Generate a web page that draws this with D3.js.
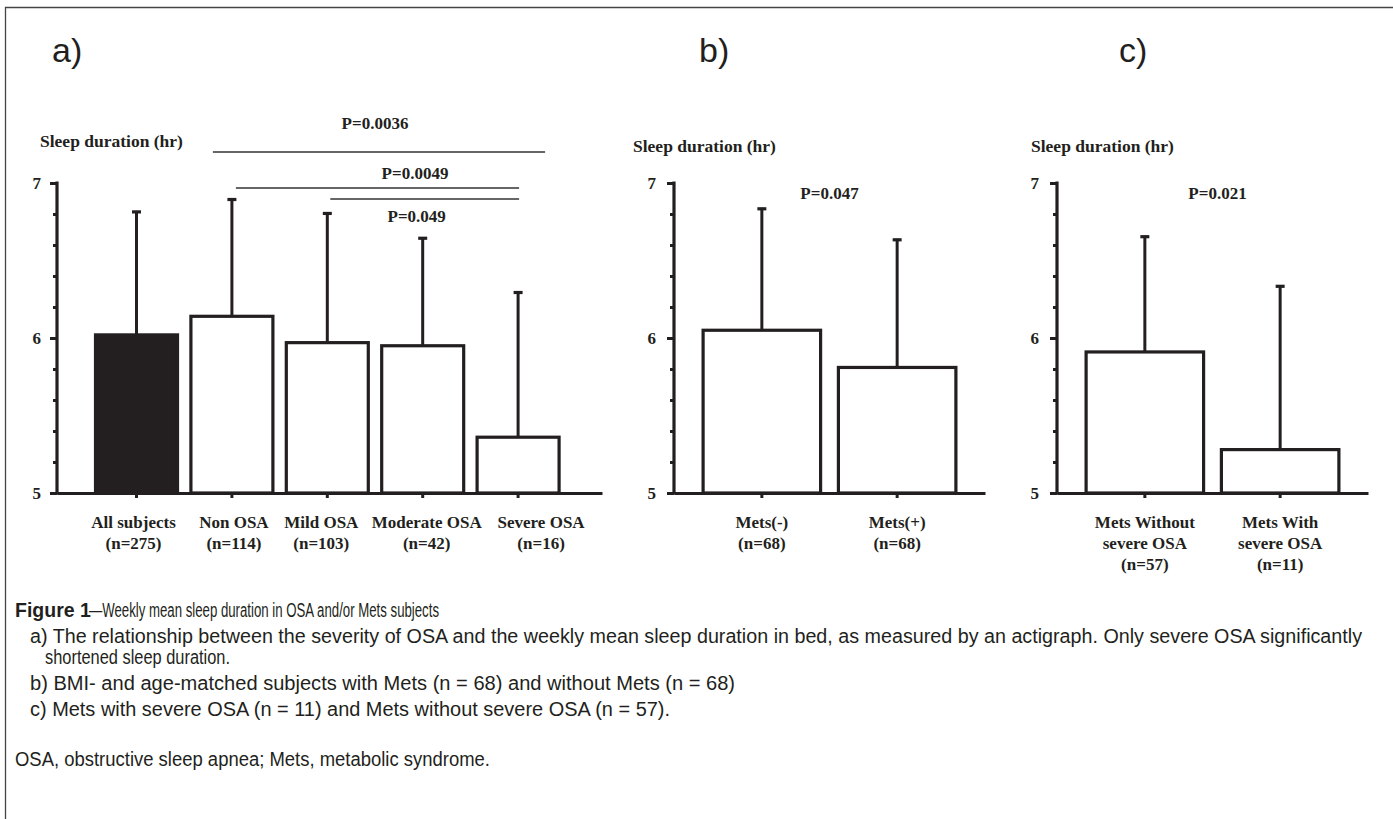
<!DOCTYPE html>
<html><head><meta charset="utf-8">
<script src="https://cdn.jsdelivr.net/npm/d3@7"></script>
<style>
body{margin:0;background:#fff;}
svg{display:block}
</style></head><body>
<svg id="c" width="1393" height="819"></svg>
<script>
// ---------------- data ----------------
const yTickValues = [5, 6, 7];
const yMinorStep = 0.2;
const axisTitle = "Sleep duration (hr)";
const panelTitles = ["a)", "b)", "c)"];

const catsA = ["All subjects|(n=275)", "Non OSA|(n=114)", "Mild OSA|(n=103)", "Moderate OSA|(n=42)", "Severe OSA|(n=16)"];
const meanA = [6.02, 6.14, 5.97, 5.95, 5.36];
const upperA = [6.82, 6.90, 6.81, 6.65, 6.30];

const catsB = ["Mets(-)|(n=68)", "Mets(+)|(n=68)"];
const meanB = [6.05, 5.81];
const upperB = [6.84, 6.64];

const catsC = ["Mets Without|severe OSA|(n=57)", "Mets With|severe OSA|(n=11)"];
const meanC = [5.91, 5.28];
const upperC = [6.66, 6.34];

const sigLabelsA = ["P=0.0036", "P=0.0049", "P=0.049"];
const sigFromA = [1, 1, 2];
const sigToA = [4, 4, 4];
const sigLineLevelA = [7.20, 6.968, 6.897];
const sigTextLevelA = [7.348, 7.026, 6.75];

const sigLabelB = "P=0.047";
const sigLevelB = 6.895;
const sigLabelC = "P=0.021";
const sigLevelC = 6.897;

const captionTitle = "Figure 1";
const captionLines = [
  "—Weekly mean sleep duration in OSA and/or Mets subjects",
  "a) The relationship between the severity of OSA and the weekly mean sleep duration in bed, as measured by an actigraph. Only severe OSA significantly",
  "shortened sleep duration.",
  "b) BMI- and age-matched subjects with Mets (n = 68) and without Mets (n = 68)",
  "c) Mets with severe OSA (n = 11) and Mets without severe OSA (n = 57).",
  "OSA, obstructive sleep apnea; Mets, metabolic syndrome."
];

// ---------------- drawing ----------------
const INK = "#231f20";
const SERIF = "'Liberation Serif','Times New Roman',serif";
const SANS = "'Liberation Sans',Arial,Helvetica,sans-serif";
const svg = d3.select("#c");

// frame
svg.append("path")
  .attr("d", "M1400,7.5 H5.5 V830")
  .attr("fill", "none").attr("stroke", "#444").attr("stroke-width", 1.3);

const yScale = d3.scaleLinear().domain([5, 7]).range([493, 183]);

function panel(cfg) {
  const g = svg.append("g");
  const x = d3.scaleBand().domain(cfg.cats).range(cfg.range)
    .paddingInner(cfg.pi).paddingOuter(cfg.po).align(cfg.align);
  const y = yScale;

  g.append("text").attr("x", cfg.titleX).attr("y", cfg.titleY)
    .attr("font-family", SERIF).attr("font-weight", "bold").attr("font-size", 17.5)
    .attr("fill", INK).text(axisTitle);

  g.selectAll("rect.bar").data(cfg.cats).join("rect")
    .attr("x", d => x(d)).attr("width", x.bandwidth())
    .attr("y", (d, i) => y(cfg.means[i]))
    .attr("height", (d, i) => y(5) - y(cfg.means[i]))
    .attr("fill", (d, i) => cfg.blackFirst && i === 0 ? INK : "#fff")
    .attr("stroke", INK).attr("stroke-width", 3.2);

  const eb = g.selectAll("g.eb").data(cfg.cats).join("g");
  eb.append("line")
    .attr("x1", d => x(d) + x.bandwidth() / 2).attr("x2", d => x(d) + x.bandwidth() / 2)
    .attr("y1", (d, i) => y(cfg.means[i])).attr("y2", (d, i) => y(cfg.uppers[i]))
    .attr("stroke", INK).attr("stroke-width", 3);
  eb.append("line")
    .attr("x1", d => x(d) + x.bandwidth() / 2 - 4.5).attr("x2", d => x(d) + x.bandwidth() / 2 + 4.5)
    .attr("y1", (d, i) => y(cfg.uppers[i]) + 1).attr("y2", (d, i) => y(cfg.uppers[i]) + 1)
    .attr("stroke", INK).attr("stroke-width", 3.2);

  const xa = g.append("g").attr("transform", `translate(0,${y(5)})`)
    .call(d3.axisBottom(x).tickSize(5).tickSizeOuter(0).tickFormat(""));
  xa.select(".domain").attr("stroke", INK).attr("stroke-width", 3.2);
  xa.selectAll(".tick line").attr("stroke", INK).attr("stroke-width", 3);
  xa.selectAll(".tick").each(function (d, i) {
    const parts = d.split("|");
    const dx = cfg.labelShift ? cfg.labelShift[i] : 0;
    const t = d3.select(this).append("text")
      .attr("font-family", SERIF).attr("font-weight", "bold").attr("font-size", 17)
      .attr("fill", INK).attr("text-anchor", "middle");
    parts.forEach((p, k) => t.append("tspan").attr("x", dx).attr("y", 35 + k * 21).text(p));
  });

  const ymin = g.append("g").attr("transform", `translate(${cfg.range[0]},0)`)
    .call(d3.axisLeft(y).tickValues(d3.range(5, 7.0001, yMinorStep)).tickSize(4).tickSizeOuter(0).tickFormat(""));
  ymin.select(".domain").remove();
  ymin.selectAll(".tick line").attr("stroke", INK).attr("stroke-width", 3);
  const ya = g.append("g").attr("transform", `translate(${cfg.range[0]},0)`)
    .call(d3.axisLeft(y).tickValues(yTickValues).tickSize(7).tickSizeOuter(0).tickPadding(cfg.tickPad).tickFormat(d3.format("d")));
  ya.select(".domain").attr("stroke", INK).attr("stroke-width", 3.2).attr("d", `M0,${y(7) - 1.5}V${y(5) + 1.5}`);
  ya.selectAll(".tick line").attr("stroke", INK).attr("stroke-width", 3);
  ya.selectAll(".tick text").attr("font-family", SERIF).attr("font-weight", "bold")
    .attr("font-size", 17).attr("fill", INK).attr("dy", "0.3em");

  svg.append("text").attr("x", cfg.labelX).attr("y", 62)
    .attr("font-family", SANS).attr("font-size", 34).attr("fill", INK).text(cfg.label);

  return { g, x, y };
}

const A = panel({ cats: catsA, means: meanA, uppers: upperA, range: [57, 602], pi: 0.1405, po: 0.4268, align: 0.473,
  blackFirst: true, titleX: 40, titleY: 147, tickPad: 9, label: panelTitles[0], labelX: 52,
  labelShift: [-3, 2, -6, 4, 23] });
const B = panel({ cats: catsB, means: meanB, uppers: upperB, range: [674, 985], pi: 0.1316, po: 0.2151, align: 0.5,
  blackFirst: false, titleX: 633, titleY: 152, tickPad: 11, label: panelTitles[1], labelX: 699 });
const C = panel({ cats: catsC, means: meanC, uppers: upperC, range: [1057, 1368], pi: 0.1316, po: 0.2151, align: 0.5,
  blackFirst: false, titleX: 1031, titleY: 152, tickPad: 11, label: panelTitles[2], labelX: 1119 });

// significance lines panel a
const cx = (s, i) => s.x(s.x.domain()[i]) + s.x.bandwidth() / 2;
const overL = [19, -4, -3], overR = [27, 1, 1];
const textShift = [0, 40, -6];
sigLabelsA.forEach((lab, k) => {
  const x1 = cx(A, sigFromA[k]) - overL[k], x2 = cx(A, sigToA[k]) + overR[k];
  A.g.append("line").attr("x1", x1).attr("x2", x2)
    .attr("y1", A.y(sigLineLevelA[k])).attr("y2", A.y(sigLineLevelA[k]))
    .attr("stroke", "#333").attr("stroke-width", 1.6);
  A.g.append("text").attr("x", (cx(A, sigFromA[k]) + cx(A, sigToA[k])) / 2 + textShift[k])
    .attr("y", A.y(sigTextLevelA[k])).attr("text-anchor", "middle")
    .attr("font-family", SERIF).attr("font-weight", "bold").attr("font-size", 17).attr("fill", INK).text(lab);
});
[[B, sigLabelB, sigLevelB, 0], [C, sigLabelC, sigLevelC, 5]].forEach(([P, lab, lv, sh]) => {
  P.g.append("text").attr("x", (cx(P, 0) + cx(P, 1)) / 2 + sh).attr("y", P.y(lv)).attr("text-anchor", "middle")
    .attr("font-family", SERIF).attr("font-weight", "bold").attr("font-size", 17).attr("fill", INK).text(lab);
});

// caption
const cap = svg.append("g").attr("font-family", SANS).attr("font-size", 19.5).attr("fill", INK);
cap.append("text").attr("x", 15).attr("y", 617).attr("font-weight", "bold").text(captionTitle);
cap.append("text").attr("x", 89).attr("y", 617).attr("textLength", 350).attr("lengthAdjust", "spacingAndGlyphs").text(captionLines[0]);
const capX = [30, 45, 30, 30, 15];
const capY = [643, 664, 690, 716, 766];
const capW = [1332, 185, 705, 640, 475];
captionLines.slice(1).forEach((s, i) => cap.append("text").attr("x", capX[i]).attr("y", capY[i])
  .attr("textLength", capW[i]).attr("lengthAdjust", "spacingAndGlyphs").text(s));
</script>
</body></html>
